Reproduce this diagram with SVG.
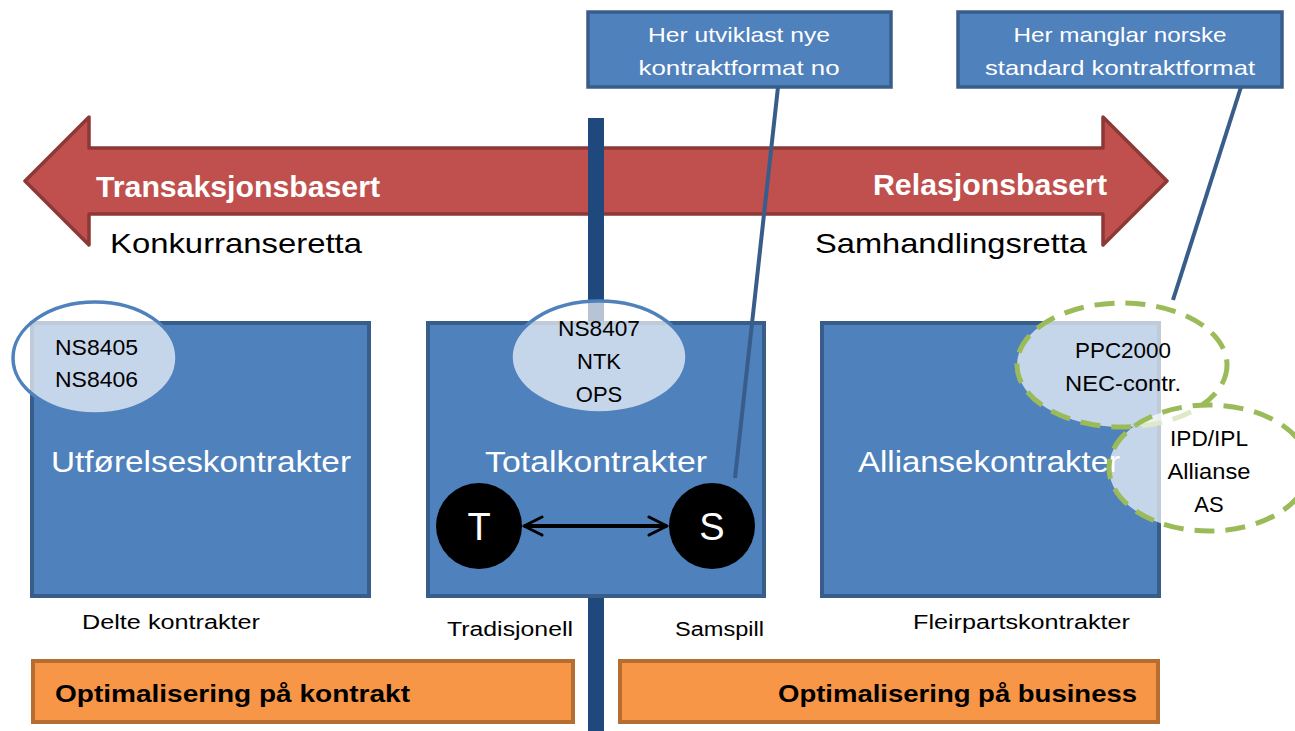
<svg xmlns="http://www.w3.org/2000/svg" width="1295" height="731" viewBox="0 0 1295 731">
<defs>
<style>
.t{font-family:"Liberation Sans",Arial,sans-serif}
.box{fill:#4F81BD;stroke:#385D8A;stroke-width:4}
.call{fill:#4F81BD;stroke:#385D8A;stroke-width:3.5}
.wt{fill:#fff}
.bk{fill:#000}
.orange{fill:#F79646;stroke:#B66D31;stroke-width:4}
.ell{fill:#fff;fill-opacity:0.68;stroke:#4F81BD;stroke-width:3.5}
.gell{fill:#fff;fill-opacity:0.68;stroke:#9BBB59;stroke-width:5;stroke-dasharray:20 11}
.lead{stroke:#385D8A;stroke-width:4;fill:none}
</style>
<marker id="ah" viewBox="0 0 12 12" refX="11" refY="6" markerWidth="6" markerHeight="6" orient="auto-start-reverse" markerUnits="strokeWidth">
<path d="M2,1.5 L11,6 L2,10.5" fill="none" stroke="#000" stroke-width="1.5" stroke-linecap="round" stroke-linejoin="round"/>
</marker>
</defs>
<rect width="1295" height="731" fill="#fff"/>

<g id="axis-arrow">
<polygon points="25,181 89,117 89,148 1103,148 1103,117 1167,181 1103,245 1103,214 89,214 89,245" fill="#C0504D" stroke="#8C3836" stroke-width="3.5" stroke-linejoin="round"/>
<text class="t wt" x="96" y="197" font-size="29" font-weight="bold" textLength="284" lengthAdjust="spacingAndGlyphs">Transaksjonsbasert</text>
<text class="t wt" x="873" y="195" font-size="29" font-weight="bold" textLength="234" lengthAdjust="spacingAndGlyphs">Relasjonsbasert</text>
<text class="t bk" x="110" y="253" font-size="28" textLength="252" lengthAdjust="spacingAndGlyphs">Konkurranseretta</text>
<text class="t bk" x="815" y="253" font-size="28" textLength="272" lengthAdjust="spacingAndGlyphs">Samhandlingsretta</text>
</g>

<g id="divider">
<rect x="588" y="118" width="16" height="613" fill="#1F497D"/>
</g>

<g id="utforelse">
<rect class="box" x="32" y="323" width="337" height="273"/>
<text class="t wt" x="201" y="472" font-size="29" text-anchor="middle" textLength="300" lengthAdjust="spacingAndGlyphs">Utførelseskontrakter</text>
</g>
<g id="ns8405">
<ellipse class="ell" cx="95" cy="358" rx="82" ry="56"/>
<text class="t bk" x="55" y="355" font-size="22" textLength="83" lengthAdjust="spacingAndGlyphs">NS8405</text>
<text class="t bk" x="55" y="387" font-size="22" textLength="83" lengthAdjust="spacingAndGlyphs">NS8406</text>
</g>

<g id="total">
<rect class="box" x="428" y="323" width="336" height="273"/>
<text class="t wt" x="596" y="472" font-size="29" text-anchor="middle" textLength="222" lengthAdjust="spacingAndGlyphs">Totalkontrakter</text>
</g>
<g id="ns8407">
<ellipse class="ell" cx="599" cy="357" rx="88" ry="56"/>
<text class="t bk" x="599" y="336" font-size="22" text-anchor="middle" textLength="82" lengthAdjust="spacingAndGlyphs">NS8407</text>
<text class="t bk" x="599" y="369" font-size="22" text-anchor="middle">NTK</text>
<text class="t bk" x="599" y="402" font-size="22" text-anchor="middle">OPS</text>
</g>
<g id="node-T">
<circle cx="479" cy="526" r="43" fill="#000"/>
<text class="t wt" x="479" y="540" font-size="38" text-anchor="middle">T</text>
</g>
<g id="node-S">
<circle cx="712" cy="526" r="43" fill="#000"/>
<text class="t wt" x="712" y="540" font-size="38" text-anchor="middle">S</text>
</g>

<g id="allianse">
<rect class="box" x="822" y="323" width="337" height="273"/>
<text class="t wt" x="858" y="472" font-size="29" textLength="262" lengthAdjust="spacingAndGlyphs">Alliansekontrakter</text>
</g>
<g id="ppc2000">
<ellipse class="gell" cx="1122" cy="365" rx="105" ry="62"/>
<text class="t bk" x="1123" y="358" font-size="22" text-anchor="middle" textLength="96" lengthAdjust="spacingAndGlyphs">PPC2000</text>
<text class="t bk" x="1123" y="391" font-size="22" text-anchor="middle" textLength="116" lengthAdjust="spacingAndGlyphs">NEC-contr.</text>
</g>
<g id="ipd">
<ellipse class="gell" cx="1209" cy="468" rx="100" ry="63"/>
<text class="t bk" x="1209" y="446" font-size="22" text-anchor="middle" textLength="78" lengthAdjust="spacingAndGlyphs">IPD/IPL</text>
<text class="t bk" x="1209" y="479" font-size="22" text-anchor="middle" textLength="83" lengthAdjust="spacingAndGlyphs">Allianse</text>
<text class="t bk" x="1209" y="512" font-size="22" text-anchor="middle">AS</text>
</g>

<g id="callout-1">
<rect class="call" x="588" y="12" width="303" height="75"/>
<text class="t wt" x="739" y="42" font-size="21" text-anchor="middle" textLength="182" lengthAdjust="spacingAndGlyphs">Her utviklast nye</text>
<text class="t wt" x="739" y="75" font-size="21" text-anchor="middle" textLength="201" lengthAdjust="spacingAndGlyphs">kontraktformat no</text>
</g>
<g id="callout-2">
<rect class="call" x="958" y="12" width="324" height="75"/>
<text class="t wt" x="1120" y="42" font-size="21" text-anchor="middle" textLength="213" lengthAdjust="spacingAndGlyphs">Her manglar norske</text>
<text class="t wt" x="1120" y="75" font-size="21" text-anchor="middle" textLength="270" lengthAdjust="spacingAndGlyphs">standard kontraktformat</text>
</g>

<g id="connectors">
<line x1="524" y1="526" x2="667" y2="526" stroke="#000" stroke-width="4" marker-start="url(#ah)" marker-end="url(#ah)"/>
<line class="lead" x1="778" y1="87" x2="735" y2="478"/>
<line class="lead" x1="1241" y1="87" x2="1173" y2="300"/>
</g>

<g id="labels">
<text class="t bk" x="82" y="629" font-size="20" textLength="178" lengthAdjust="spacingAndGlyphs">Delte kontrakter</text>
<text class="t bk" x="447" y="636" font-size="20" textLength="126" lengthAdjust="spacingAndGlyphs">Tradisjonell</text>
<text class="t bk" x="675" y="636" font-size="20" textLength="89" lengthAdjust="spacingAndGlyphs">Samspill</text>
<text class="t bk" x="913" y="629" font-size="20" textLength="217" lengthAdjust="spacingAndGlyphs">Fleirpartskontrakter</text>
</g>

<g id="opt-kontrakt">
<rect class="orange" x="33" y="661" width="540" height="61"/>
<text class="t bk" x="55" y="702" font-size="24" font-weight="bold" textLength="355" lengthAdjust="spacingAndGlyphs">Optimalisering på kontrakt</text>
</g>
<g id="opt-business">
<rect class="orange" x="620" y="661" width="538" height="61"/>
<text class="t bk" x="778" y="702" font-size="24" font-weight="bold" textLength="359" lengthAdjust="spacingAndGlyphs">Optimalisering på business</text>
</g>
</svg>
